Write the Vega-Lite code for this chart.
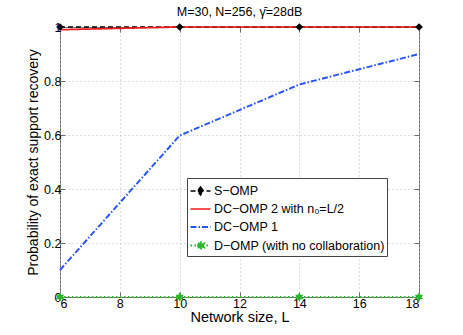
{
  "$schema": "https://vega.github.io/schema/vega-lite/v6.json",
  "width": 359,
  "height": 270,
  "autosize": "none",
  "padding": {"left": 60, "top": 27, "right": 44, "bottom": 38},
  "title": {"text": "M=30, N=256, γ̄=28dB", "fontSize": 12.5, "fontWeight": "normal", "font": "Liberation Sans", "color": "black", "offset": 3},
  "config": {
    "font": "Liberation Sans",
    "view": {"stroke": "#6b6b6b", "strokeWidth": 1},
    "axis": {
      "domain": false,
      "tickColor": "#6b6b6b",
      "tickSize": -5,
      "grid": true,
      "gridColor": "#bdbdbd",
      "gridDash": [1, 3],
      "labelColor": "black",
      "labelFont": "Liberation Sans",
      "labelFontSize": 12.5,
      "titleFont": "Liberation Sans",
      "titleFontWeight": "normal",
      "titleColor": "black"
    }
  },
  "data": {
    "values": [
      {"L": 6, "P": 1, "method": "S−OMP"},
      {"L": 10, "P": 1, "method": "S−OMP"},
      {"L": 14, "P": 1, "method": "S−OMP"},
      {"L": 18, "P": 1, "method": "S−OMP"},
      {"L": 6, "P": 0.99, "method": "DC−OMP 2 with n₀=L/2"},
      {"L": 10, "P": 1, "method": "DC−OMP 2 with n₀=L/2"},
      {"L": 14, "P": 1, "method": "DC−OMP 2 with n₀=L/2"},
      {"L": 18, "P": 1, "method": "DC−OMP 2 with n₀=L/2"},
      {"L": 6, "P": 0.1, "method": "DC−OMP 1"},
      {"L": 10, "P": 0.598, "method": "DC−OMP 1"},
      {"L": 14, "P": 0.787, "method": "DC−OMP 1"},
      {"L": 18, "P": 0.9, "method": "DC−OMP 1"},
      {"L": 6, "P": 0, "method": "D−OMP (with no collaboration)"},
      {"L": 10, "P": 0, "method": "D−OMP (with no collaboration)"},
      {"L": 14, "P": 0, "method": "D−OMP (with no collaboration)"},
      {"L": 18, "P": 0, "method": "D−OMP (with no collaboration)"}
    ]
  },
  "layer": [
    {
      "mark": {"type": "line", "clip": false},
      "encoding": {
        "x": {"field": "L", "type": "quantitative", "scale": {"domain": [6, 18], "nice": false, "zero": false},
              "axis": {"values": [6, 8, 10, 12, 14, 16, 18], "title": "Network size, L", "titleFontSize": 14.5, "labelPadding": 5, "titlePadding": 1}},
        "y": {"field": "P", "type": "quantitative", "scale": {"domain": [0, 1], "nice": false},
              "axis": {"values": [0, 0.2, 0.4, 0.6, 0.8, 1], "format": ".1~f", "title": "Probability of exact support recovery", "titleFontSize": 14, "labelPadding": 4, "titlePadding": 3}},
        "color": {
          "field": "method", "type": "nominal",
          "scale": {"domain": ["S−OMP", "DC−OMP 2 with n₀=L/2", "DC−OMP 1", "D−OMP (with no collaboration)"],
                    "range": ["#000000", "#ee1c1c", "#2a55f5", "#2db52d"]},
          "legend": {
            "title": null,
            "orient": "none",
            "legendX": 127,
            "legendY": 151,
            "fillColor": "white",
            "strokeColor": "#444",
            "padding": 2,
            "labelFontSize": 12.5,
            "labelLimit": 400,
            "labelFont": "Liberation Sans",
            "labelColor": "black",
            "labelOffset": 2,
            "symbolSize": 400,
            "rowPadding": 0,
            "symbolStrokeWidth": 1.5,
            "encode": {
              "symbols": {
                "update": {
                  "shape": {"signal": "datum.value === 'S−OMP' ? 'M-1,0L1,0M0,-0.4L0.3,0L0,0.4L-0.3,0Z' : (datum.value === 'D−OMP (with no collaboration)' ? 'M-1,0L1,0M0,-0.4L0.116,-0.2L0.346,-0.2L0.231,0L0.346,0.2L0.116,0.2L0,0.4L-0.116,0.2L-0.346,0.2L-0.231,0L-0.346,-0.2L-0.116,-0.2Z' : 'M-1,0L1,0')"},
                  "fill": {"signal": "datum.value === 'S−OMP' ? '#000000' : (datum.value === 'D−OMP (with no collaboration)' ? '#2db52d' : 'transparent')"},
                  "fillOpacity": {"value": 1},
                  "strokeDash": {"signal": "datum.value === 'S−OMP' ? [4,2] : (datum.value === 'DC−OMP 1' ? [5,2,1.5,2] : (datum.value === 'D−OMP (with no collaboration)' ? [1.5,2] : [1,0]))"},
                  "strokeWidth": {"signal": "datum.value === 'DC−OMP 2 with n₀=L/2' ? 2 : 1.5"}
                }
              }
            }
          }
        },
        "strokeDash": {
          "field": "method", "type": "nominal",
          "scale": {"domain": ["S−OMP", "DC−OMP 2 with n₀=L/2", "DC−OMP 1", "D−OMP (with no collaboration)"],
                    "range": [[5, 3], [1, 0], [6, 2, 1.5, 2], [1.5, 2.5]]},
          "legend": null
        },
        "strokeWidth": {
          "field": "method", "type": "nominal",
          "scale": {"domain": ["S−OMP", "DC−OMP 2 with n₀=L/2", "DC−OMP 1", "D−OMP (with no collaboration)"],
                    "range": [1.5, 2.2, 1.5, 1.5]},
          "legend": null
        }
      }
    },
    {
      "transform": [{"filter": "datum.method === 'S−OMP' || datum.method === 'D−OMP (with no collaboration)'"}],
      "mark": {"type": "point", "filled": true, "opacity": 1, "clip": false},
      "encoding": {
        "x": {"field": "L", "type": "quantitative",
              "axis": {"orient": "top", "values": [6, 8, 10, 12, 14, 16, 18], "labels": false, "title": null, "grid": false}},
        "y": {"field": "P", "type": "quantitative",
              "axis": {"orient": "right", "values": [0, 0.2, 0.4, 0.6, 0.8, 1], "labels": false, "title": null, "grid": false}},
        "color": {"field": "method", "type": "nominal"},
        "shape": {
          "field": "method", "type": "nominal",
          "scale": {"domain": ["S−OMP", "D−OMP (with no collaboration)"],
                    "range": ["diamond", "M0,-1L0.289,-0.5L0.866,-0.5L0.577,0L0.866,0.5L0.289,0.5L0,1L-0.289,0.5L-0.866,0.5L-0.577,0L-0.866,-0.5L-0.289,-0.5Z"]},
          "legend": null
        },
        "size": {
          "field": "method", "type": "nominal",
          "scale": {"domain": ["S−OMP", "D−OMP (with no collaboration)"], "range": [60, 90]},
          "legend": null
        }
      }
    }
  ],
  "resolve": {"axis": {"x": "independent", "y": "independent"}}
}
